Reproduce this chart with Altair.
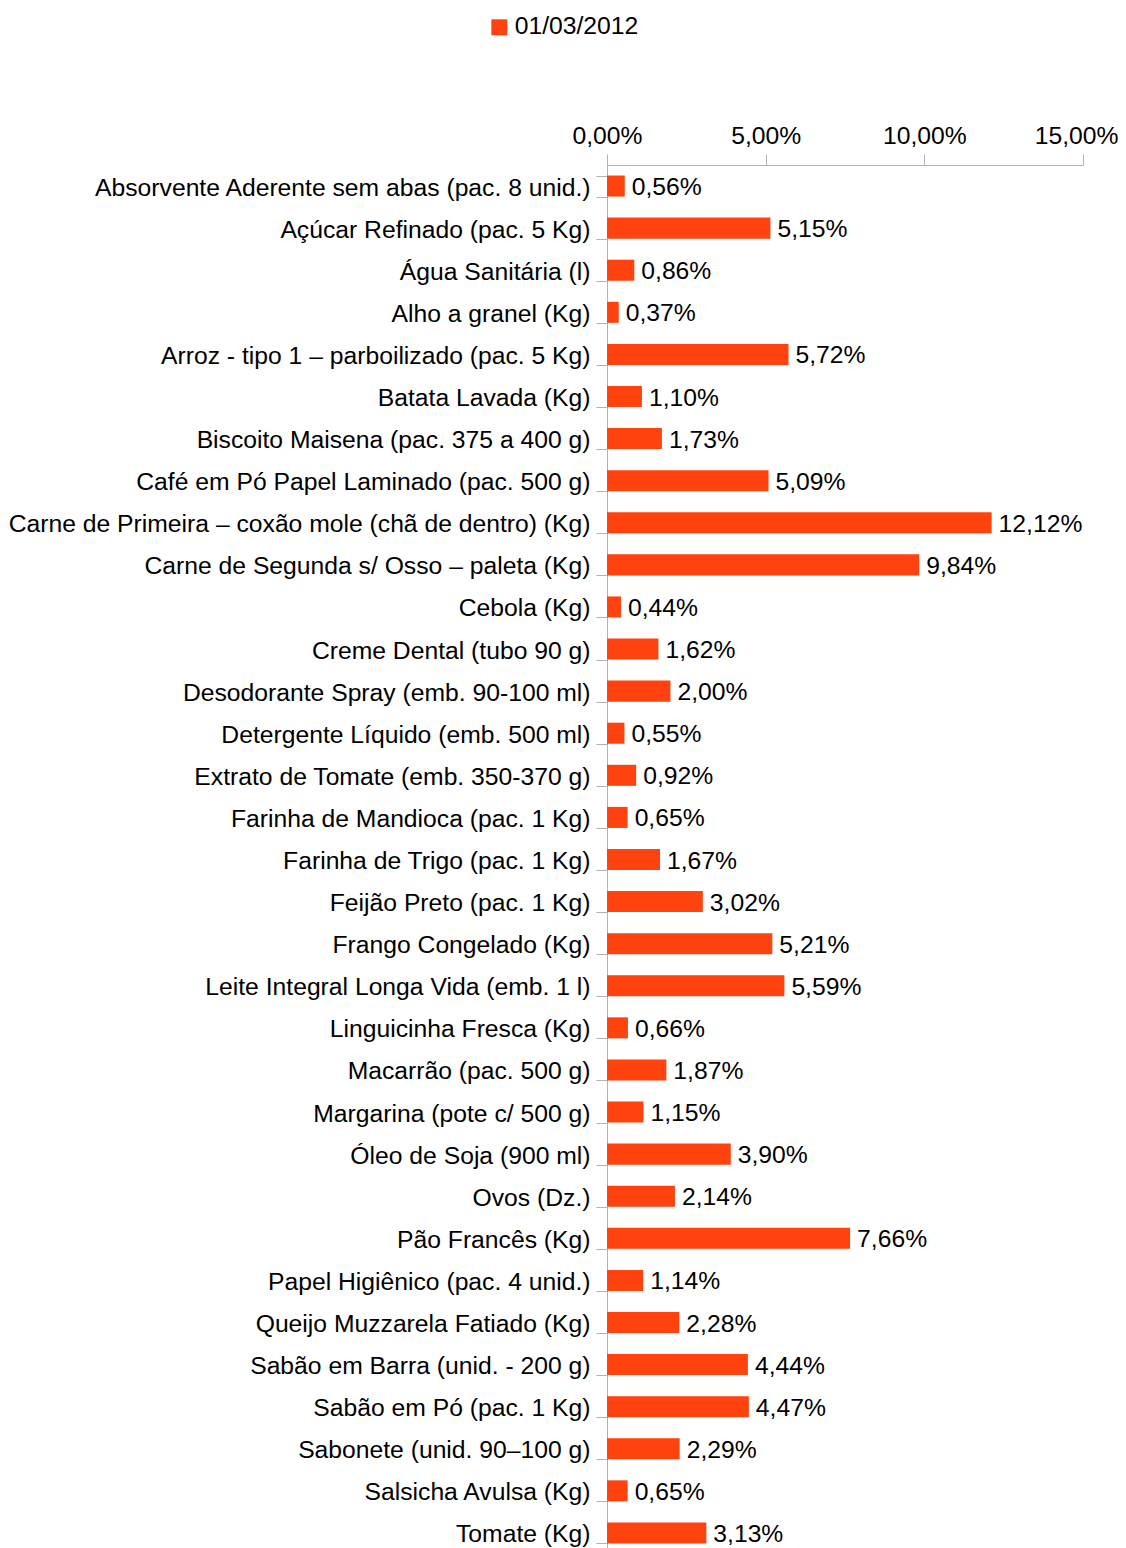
import altair as alt
import pandas as pd

categories = [
    "Absorvente Aderente sem abas (pac. 8 unid.)",
    "Açúcar Refinado (pac. 5 Kg)",
    "Água Sanitária (l)",
    "Alho a granel (Kg)",
    "Arroz - tipo 1 – parboilizado (pac. 5 Kg)",
    "Batata Lavada (Kg)",
    "Biscoito Maisena (pac. 375 a 400 g)",
    "Café em Pó Papel Laminado (pac. 500 g)",
    "Carne de Primeira – coxão mole (chã de dentro) (Kg)",
    "Carne de Segunda s/ Osso – paleta (Kg)",
    "Cebola (Kg)",
    "Creme Dental (tubo 90 g)",
    "Desodorante Spray (emb. 90-100 ml)",
    "Detergente Líquido (emb. 500 ml)",
    "Extrato de Tomate (emb. 350-370 g)",
    "Farinha de Mandioca (pac. 1 Kg)",
    "Farinha de Trigo (pac. 1 Kg)",
    "Feijão Preto (pac. 1 Kg)",
    "Frango Congelado (Kg)",
    "Leite Integral Longa Vida (emb. 1 l)",
    "Linguicinha Fresca (Kg)",
    "Macarrão (pac. 500 g)",
    "Margarina (pote c/ 500 g)",
    "Óleo de Soja (900 ml)",
    "Ovos (Dz.)",
    "Pão Francês (Kg)",
    "Papel Higiênico (pac. 4 unid.)",
    "Queijo Muzzarela Fatiado (Kg)",
    "Sabão em Barra (unid. - 200 g)",
    "Sabão em Pó (pac. 1 Kg)",
    "Sabonete (unid. 90–100 g)",
    "Salsicha Avulsa (Kg)",
    "Tomate (Kg)",
]
values = [0.56, 5.15, 0.86, 0.37, 5.72, 1.10, 1.73, 5.09, 12.12, 9.84, 0.44,
          1.62, 2.00, 0.55, 0.92, 0.65, 1.67, 3.02, 5.21, 5.59, 0.66, 1.87,
          1.15, 3.90, 2.14, 7.66, 1.14, 2.28, 4.44, 4.47, 2.29, 0.65, 3.13]
series_name = "01/03/2012"
x_ticks = [0, 5, 10, 15]

df = pd.DataFrame({
    "item": categories,
    "value": values,
    "label": [f"{v:.2f}".replace(".", ",") + "%" for v in values],
    "series": [series_name] * len(values),
})

FONT = "Liberation Sans"
FS = 24.7
COLOR = "#ff420e"

base = alt.Chart(df).encode(
    y=alt.Y("item:N", sort=categories, title=None,
            scale=alt.Scale(paddingInner=0.5, paddingOuter=0.25),
            axis=alt.Axis(tickBand="extent", labelFontSize=FS, labelFont=FONT,
                          labelColor="#000000", tickSize=11, tickColor="#b3b3b3",
                          domainColor="#b3b3b3", labelPadding=6, labelLimit=1000,
                          labelOffset=2)),
)

bars = base.mark_bar(color=COLOR).encode(
    x=alt.X("value:Q", title=None,
            scale=alt.Scale(domain=[0, 15], nice=False),
            axis=alt.Axis(orient="top", values=x_ticks, grid=False,
                          labelExpr="replace(format(datum.value, '.2f'), '.', ',') + '%'",
                          labelFontSize=FS, labelFont=FONT, labelColor="#000000",
                          labelFlush=True, labelFlushOffset=35,
                          tickSize=11, tickColor="#b3b3b3", domainColor="#b3b3b3",
                          labelPadding=6)),
    color=alt.Color("series:N",
                    scale=alt.Scale(range=[COLOR]),
                    legend=alt.Legend(title=None, orient="none", legendX=-120,
                                      legendY=-150, symbolType="square",
                                      symbolSize=256, labelFontSize=FS,
                                      labelFont=FONT, labelOffset=3, padding=0,
                                      symbolStrokeWidth=0)),
)

texts = base.mark_text(align="left", baseline="middle", dx=7, dy=2, fontSize=FS,
                       font=FONT, color="#000000").encode(
    x=alt.X("value:Q"),
    text="label:N",
)

chart = (bars + texts).properties(
    width=476,
    height=1389,
    autosize=alt.AutoSizeParams(type="none"),
    padding={"left": 599, "top": 157, "right": 35, "bottom": 0},
).configure(background="white").configure_view(stroke=None)

chart.save("out.html", embed_options={"renderer": "svg", "actions": False})
